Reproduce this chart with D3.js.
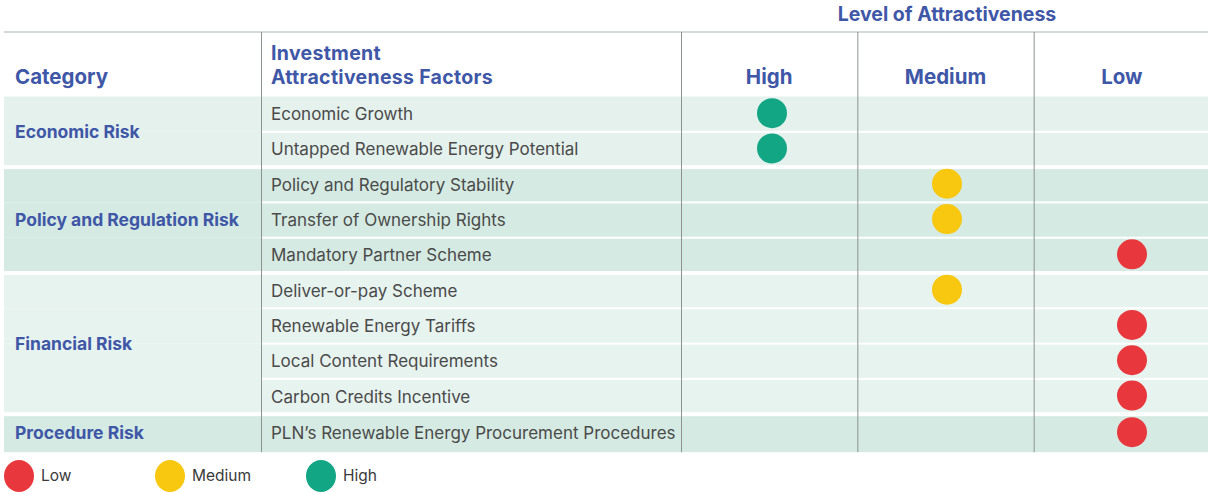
<!DOCTYPE html>
<html><head><meta charset="utf-8">
<script src="https://cdn.jsdelivr.net/npm/d3@7"></script>
<style>body{margin:0;background:#fff}svg{display:block}</style>
</head><body><svg id="c" width="1208" height="492"></svg>
<script>
const categories = ["Economic Risk", "Policy and Regulation Risk", "Financial Risk", "Procedure Risk"];
const factors = ["Economic Growth", "Untapped Renewable Energy Potential", "Policy and Regulatory Stability",
  "Transfer of Ownership Rights", "Mandatory Partner Scheme", "Deliver-or-pay Scheme",
  "Renewable Energy Tariffs", "Local Content Requirements", "Carbon Credits Incentive",
  "PLN’s Renewable Energy Procurement Procedures"];
const factorCategory = [0, 0, 1, 1, 1, 2, 2, 2, 2, 3];
const factorLevel = ["High", "High", "Medium", "Medium", "Low", "Medium", "Low", "Low", "Low", "Low"];
const levelColumns = ["High", "Medium", "Low"];
const legendItems = ["Low", "Medium", "High"];
const factorHeaderLines = ["Investment", "Attractiveness Factors"];

const svg = d3.select("#c");
const blue = "#3f57a7", textC = "#4a4a4a", divC = "#8c9291";
const levelColor = d3.scaleOrdinal().domain(["Low", "Medium", "High"]).range(["#e8383d", "#f8c70f", "#13a684"]);
const groupFill = d3.scaleOrdinal().domain([0, 1, 2, 3]).range(["#e4f1ec", "#d5eae2", "#e7f3ef", "#d5eae2"]);

const left = 4, right = 1208, colCat = 261, colFac = 681;
const colX = d3.scaleBand().domain(levelColumns).range([681, 1210]);
const dotX = d3.scaleOrdinal().domain(levelColumns).range([772, 947, 1132]);
const rowY = d3.scaleLinear().domain([0, factors.length - 1]).range([96.5, 96.5 + 9 * 35.3]);
const rowH = i => i === factors.length - 1 ? 38 : 35.3;
const tableTop = 32, tableBottom = rowY(factors.length - 1) + rowH(factors.length - 1);

// row backgrounds
svg.selectAll("rect.row").data(factors).join("rect")
  .attr("x", left).attr("width", right - left)
  .attr("y", (d, i) => rowY(i)).attr("height", (d, i) => rowH(i))
  .attr("fill", (d, i) => groupFill(factorCategory[i]));

// separators
factors.forEach((d, i) => {
  if (i === 0) return;
  const newGroup = factorCategory[i] !== factorCategory[i - 1];
  svg.append("rect")
    .attr("x", newGroup ? left : colCat).attr("width", right - (newGroup ? left : colCat))
    .attr("y", rowY(i) - (newGroup ? 2 : 1)).attr("height", newGroup ? 4 : 2)
    .attr("fill", "#ffffff");
});

// top border
svg.append("line").attr("x1", left).attr("x2", right).attr("y1", tableTop).attr("y2", tableTop)
  .attr("stroke", "#c9cdcd").attr("stroke-width", 1.5);

// vertical dividers
[colCat, ...levelColumns.map(c => colX(c))].forEach(x => {
  svg.append("line").attr("x1", x + 0.5).attr("x2", x + 0.5).attr("y1", tableTop).attr("y2", tableBottom)
    .attr("stroke", divC).attr("stroke-width", 1);
});

const font = "Inter, Roboto, sans-serif";
// title
svg.append("text").attr("x", 947).attr("y", 21).attr("text-anchor", "middle")
  .attr("font-family", font).attr("font-weight", 700).attr("font-size", 19.5).attr("fill", blue)
  .text("Level of Attractiveness");

// headers
const hdr = (x, y, t, anchor) => svg.append("text").attr("x", x).attr("y", y).attr("text-anchor", anchor || "start")
  .attr("font-family", font).attr("font-weight", 700).attr("font-size", 20.5).attr("fill", blue)
  .text(t);
hdr(15, 84, "Category");
const fh = svg.append("text").attr("x", 271).attr("y", 60)
  .attr("font-family", font).attr("font-weight", 700).attr("font-size", 19.5).attr("fill", blue)
  .attr("letter-spacing", 0.3);
factorHeaderLines.forEach((t, i) => fh.append("tspan").attr("x", 271).attr("dy", i === 0 ? 0 : 24).text(t));
levelColumns.forEach(c => hdr(colX(c) + colX.bandwidth() / 2, 84, c, "middle"));

// categories
categories.forEach((c, ci) => {
  const idx = factorCategory.map((v, i) => v === ci ? i : -1).filter(i => i >= 0);
  const y0 = rowY(idx[0]), y1 = rowY(idx[idx.length - 1]) + rowH(idx[idx.length - 1]);
  svg.append("text").attr("x", 15).attr("y", (y0 + y1) / 2).attr("dy", "0.35em")
    .attr("font-family", font).attr("font-weight", 700).attr("font-size", 17.5).attr("fill", blue)
    .text(c);
});

// factors
svg.selectAll("text.fac").data(factors).join("text")
  .attr("x", 271).attr("y", (d, i) => rowY(i) + rowH(i) / 2).attr("dy", "0.35em")
  .attr("font-family", font).attr("font-size", 17).attr("fill", textC)
  .text(d => d);

// dots
svg.selectAll("circle.dot").data(factors).join("circle")
  .attr("cx", (d, i) => dotX(factorLevel[i])).attr("cy", (d, i) => rowY(i) + rowH(i) / 2 - 1)
  .attr("r", 15).attr("fill", (d, i) => levelColor(factorLevel[i]));

// legend
const legX = d3.scalePoint().domain(legendItems).range([19, 321]);
const lg = svg.selectAll("g.leg").data(legendItems).join("g")
  .attr("transform", d => `translate(${legX(d)},476)`);
lg.append("ellipse").attr("rx", 15).attr("ry", 16).attr("fill", d => levelColor(d));
lg.append("text").attr("x", 22).attr("dy", "0.35em").attr("font-family", font).attr("font-size", 15.5)
  .attr("fill", "#3a3a3a").text(d => d);
</script></body></html>
